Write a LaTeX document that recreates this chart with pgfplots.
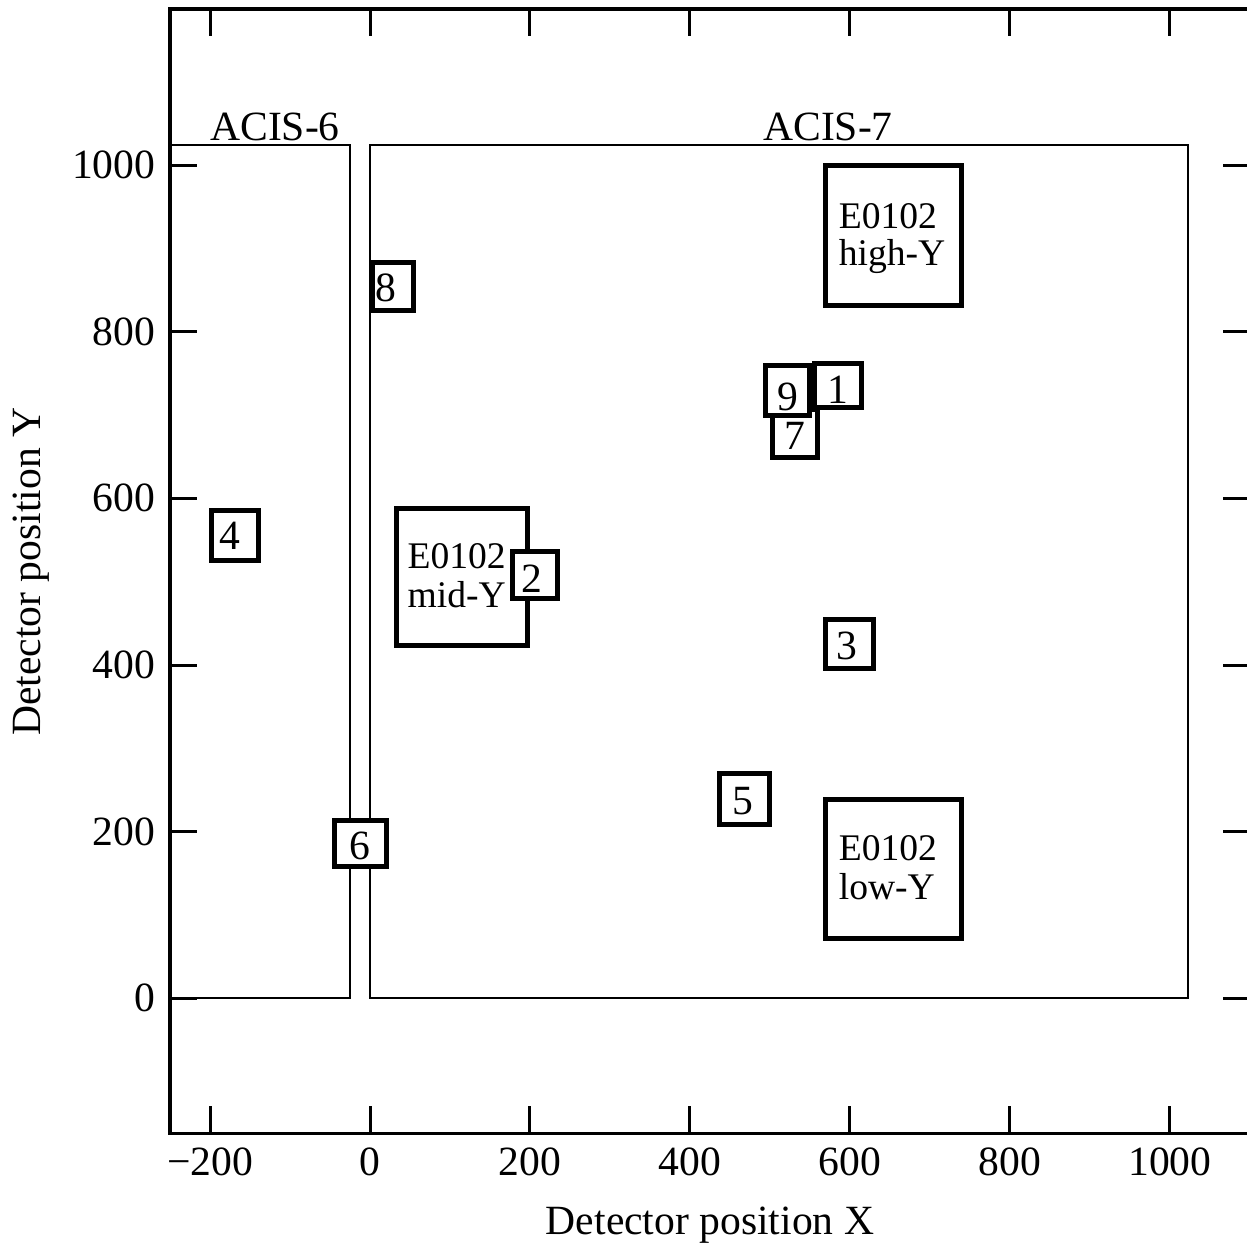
\documentclass[border=0pt]{standalone}
\usepackage{fontspec}
\setmainfont{Liberation Serif}
\usepackage{pgfplots}
\pgfplotsset{compat=1.18}
\tikzset{
  boxlbl/.style={anchor=base west, inner sep=0pt, font=\fontsize{9.4}{11}\selectfont},
  rbox/.style={line width=1.25pt, black, fill=white},
}
\begin{document}
\fontsize{10.4}{12.5}\selectfont
\begin{tikzpicture}
\begin{axis}[
  scale only axis, width=270pt, height=281.04pt,
  xmin=-250, xmax=1100, ymin=-162, ymax=1187,
  xtick={-200,0,200,400,600,800,1000},
  xticklabels={−200,0,200,400,600,800,1000},
  ytick={0,200,400,600,800,1000},
  /pgf/number format/1000 sep={},
  tick align=inside,
  major tick length=6.75pt,
  every tick/.style={line width=0.75pt, black},
  axis line style={line width=0.9pt},
  /pgf/number format/assume math mode=true,
  tick label style={font=\fontsize{10.4}{12.5}\selectfont},
  xlabel={Detector position X}, ylabel={Detector position Y},
  every axis x label/.style={at={(axis cs:425,-284)}, anchor=base, inner sep=0pt},
  every axis y label/.style={at={(axis cs:-447.5,512)}, rotate=90, anchor=north, inner sep=0pt},
]
% chips
\addplot[line width=0.5pt, black] coordinates {(-1049,0) (-25,0) (-25,1024) (-1049,1024)} -- cycle;
\addplot[line width=0.5pt, black] coordinates {(0,0) (1023,0) (1023,1024) (0,1024)} -- cycle;
% regions
\addplot[rbox] coordinates {(32.5,423) (197.5,423) (197.5,588) (32.5,588)} -- cycle;
\addplot[rbox] coordinates {(178,480) (235,480) (235,536) (178,536)} -- cycle;
\addplot[rbox] coordinates {(2.5,826) (54,826) (54,883) (2.5,883)} -- cycle;
\addplot[rbox] coordinates {(-45,158) (21,158) (21,213) (-45,213)} -- cycle;
\addplot[rbox] coordinates {(-198,525) (-140,525) (-140,586) (-198,586)} -- cycle;
\addplot[rbox] coordinates {(569,832) (740,832) (740,1000) (569,1000)} -- cycle;
\addplot[rbox] coordinates {(569,72) (740,72) (740,239) (569,239)} -- cycle;
\addplot[rbox] coordinates {(569,396) (629,396) (629,455) (569,455)} -- cycle;
\addplot[rbox] coordinates {(437.5,209) (500,209) (500,270) (437.5,270)} -- cycle;
\addplot[rbox] coordinates {(503,649) (560,649) (560,707) (503,707)} -- cycle;
\addplot[rbox] coordinates {(494,699) (549,699) (549,759) (494,759)} -- cycle;
\addplot[rbox] coordinates {(556,709) (615,709) (615,762) (556,762)} -- cycle;
% labels
\node[anchor=base, inner sep=0pt] at (axis cs:-118.75,1030) {ACIS-6};
\node[anchor=base, inner sep=0pt] at (axis cs:572.5,1030) {ACIS-7};
\node[boxlbl] at (axis cs:585,924) {E0102};
\node[boxlbl] at (axis cs:585,879) {high-Y};
\node[boxlbl] at (axis cs:46,516) {E0102};
\node[boxlbl] at (axis cs:46,469.5) {mid-Y};
\node[boxlbl] at (axis cs:585,164.8) {E0102};
\node[boxlbl] at (axis cs:585,119) {low-Y};
\node[inner sep=0pt] at (axis cs:19.4,852.3) {8};
\node[inner sep=0pt] at (axis cs:202.5,503) {2};
\node[inner sep=0pt] at (axis cs:523,722) {9};
\node[inner sep=0pt] at (axis cs:585,730) {1};
\node[inner sep=0pt] at (axis cs:530.6,674.8) {7};
\node[inner sep=0pt] at (axis cs:-13,182.8) {6};
\node[inner sep=0pt] at (axis cs:-175.6,555.4) {4};
\node[inner sep=0pt] at (axis cs:595.6,422.4) {3};
\node[inner sep=0pt] at (axis cs:466,237) {5};
\coordinate (BB1) at (axis cs:-462.5,-294.8);
\coordinate (BB2) at (axis cs:1096.25,1198);
\end{axis}
\pgfresetboundingbox
\path[use as bounding box] (BB1) rectangle (BB2);
\end{tikzpicture}
\end{document}
